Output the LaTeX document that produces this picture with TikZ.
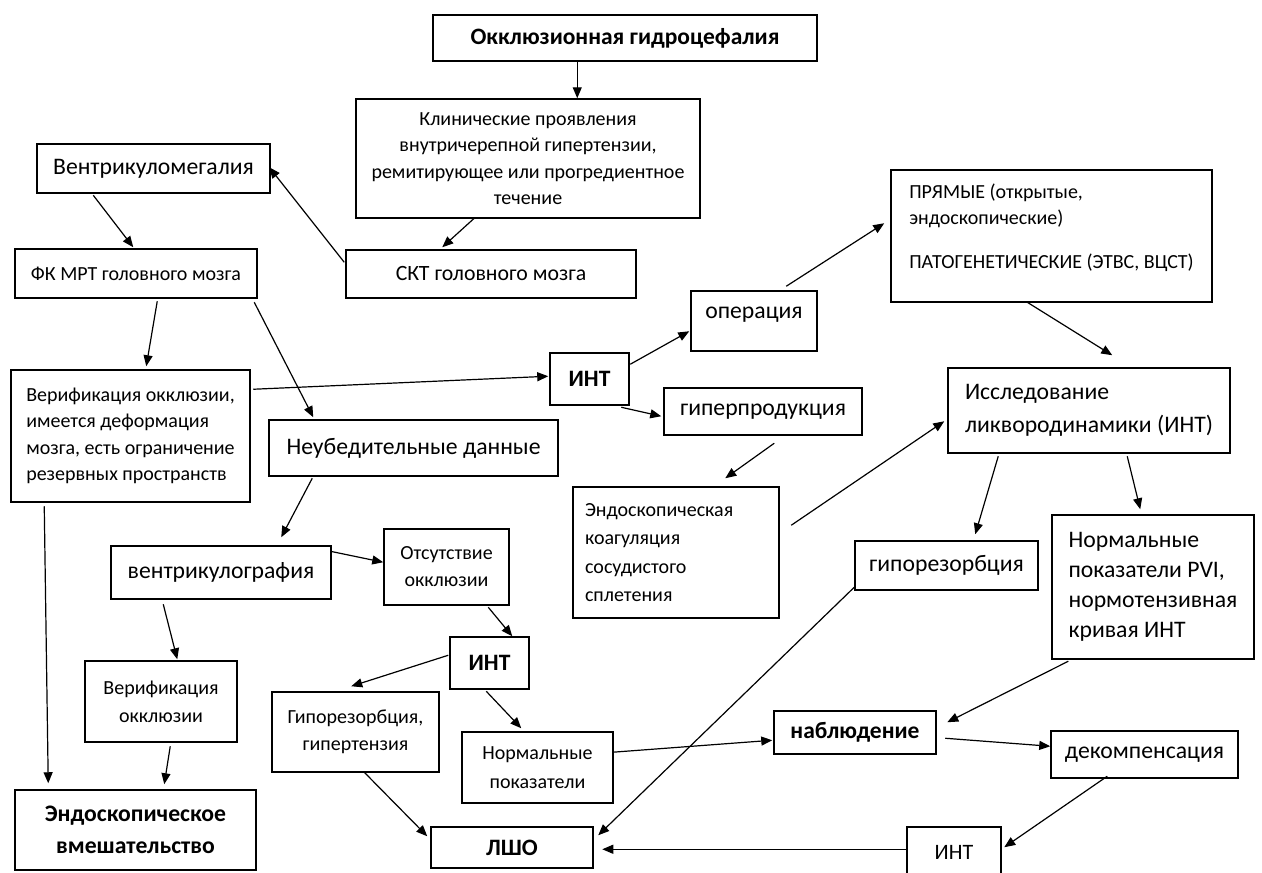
\documentclass[tikz,border=0pt]{standalone}
\usepackage{fontspec}
\setmainfont{Carlito}
\usetikzlibrary{arrows.meta}
\newcommand\fsz[2]{\fontsize{#1pt}{#2pt}\selectfont}
\newcommand\conn[4]{\draw[arr] ([shift={#2}]#1.north west) -- ([shift={#4}]#3.north west);}
\begin{document}
\begin{tikzpicture}[x=1pt,y=-1pt,
 box/.style={draw, line width=1.5pt, inner sep=0pt, align=center},
 arr/.style={line width=1.2pt, -{Triangle[length=11pt,width=9pt]}},
 f22/.style={font=\fsz{23.7}{28}},
 b22/.style={font=\bfseries\fsz{23.5}{28}}]
\useasboundingbox (0,0) rectangle (1262,873);
\clip (0,0) rectangle (1262,873);
\node[box, b22, minimum width=384pt, minimum height=46pt] (occ) at (625,38) {Окклюзионная гидроцефалия};
\node[box, minimum width=344pt, minimum height=119pt, font=\fsz{20}{26.5}] (clin) at (528,158.5) {Клинические проявления\\внутричерепной гипертензии,\\ремитирующее или прогредиентное\\течение};
\node[box, f22, minimum width=233pt, minimum height=49pt] (vm) at (153.5,168.5) {Вентрикуломегалия};
\node[box, minimum width=242pt, minimum height=49pt, font=\fsz{20}{24}] (fk) at (136,273.5) {ФК МРТ головного мозга};
\node[box, minimum width=290pt, minimum height=48pt, font=\fsz{21.8}{26}] (skt) at (491,274) {СКТ головного мозга};
\node[box, align=left, minimum width=321pt, minimum height=132pt, font=\fsz{20}{26}] (pr) at (1051.5,236) {ПРЯМЫЕ (открытые,\\эндоскопические)\\[18pt]ПАТОГЕНЕТИЧЕСКИЕ (ЭТВС, ВЦСТ)\rule[-20pt]{0pt}{20pt}};
\node[box, f22, minimum width=126pt, minimum height=60pt, text height=12pt, text depth=17pt] (op) at (754,321) {операция};
\node[box, b22, minimum width=79pt, minimum height=52pt] (int1) at (589.5,379) {ИНТ};
\node[box, align=left, minimum width=239pt, minimum height=132pt, font=\fsz{20}{26.5}] (ver) at (130.5,436) {Верификация окклюзии,\\имеется деформация\\мозга, есть ограничение\\резервных пространств};
\node[box, f22, minimum width=198pt, minimum height=47pt] (gip) at (763,411.5) {гиперпродукция};
\node[box, align=left, minimum width=282pt, minimum height=85pt, font=\fsz{23.7}{33}] (issl) at (1089,410.5) {Исследование\\ликвородинамики (ИНТ)};
\node[box, f22, minimum width=289pt, minimum height=56pt] (neub) at (413.5,448) {Неубедительные данные};
\node[box, align=left, text width=182pt, inner xsep=12pt, minimum width=206pt, minimum height=131pt, font=\fsz{20}{28.5}] (endoc) at (676,552.5) {Эндоскопическая\\коагуляция\\сосудистого\\сплетения};
\node[box, f22, minimum width=220pt, minimum height=53pt] (ventr) at (221,572.5) {вентрикулография};
\node[box, minimum width=125pt, minimum height=76pt, font=\fsz{20}{27}] (ots) at (446.5,567) {Отсутствие\\окклюзии};
\node[box, f22, minimum width=183pt, minimum height=49pt] (hypo) at (946.5,565.5) {гипорезорбция};
\node[box, align=left, minimum width=202pt, minimum height=144pt, font=\fsz{23.7}{30}] (pvi) at (1153,587) {Нормальные\\показатели PVI,\\нормотензивная\\кривая ИНТ};
\node[box, b22, minimum width=79pt, minimum height=52pt] (int2) at (489.5,663) {ИНТ};
\node[box, minimum width=152pt, minimum height=81pt, font=\fsz{20}{28}] (vo) at (161,701.5) {Верификация\\окклюзии};
\node[box, minimum width=167pt, minimum height=80pt, font=\fsz{20}{27}] (hg) at (355.5,732) {Гипорезорбция,\\гипертензия};
\node[box, minimum width=151pt, minimum height=71pt, font=\fsz{20}{29}] (np) at (537.5,767.5) {Нормальные\\показатели};
\node[box, b22, minimum width=162pt, minimum height=43pt] (nab) at (855,732.5) {наблюдение};
\node[box, minimum width=241pt, minimum height=80pt, font=\bfseries\fsz{23.7}{32}] (endo) at (135.5,830) {Эндоскопическое\\вмешательство};
\node[box, f22, minimum width=187pt, minimum height=47pt] (dek) at (1144.5,754.5) {декомпенсация};
\node[box, b22, minimum width=162pt, minimum height=41pt] (lsho) at (512,847.5) {ЛШО};
\node[box, font=\fsz{22}{26}, minimum width=94pt, minimum height=50pt] (int3) at (954,852) {ИНТ};
\conn{occ}{(145,46)}{clin}{(222,0)}
\conn{clin}{(119,120)}{skt}{(97,-2)}
\conn{skt}{(-1,13)}{vm}{(233,24)}
\conn{vm}{(57,52)}{fk}{(119,-1)}
\conn{fk}{(143,53)}{ver}{(136,-3)}
\conn{fk}{(240,54)}{neub}{(45,-2)}
\conn{ver}{(243,20)}{int1}{(-1,24)}
\conn{ver}{(34,137)}{endo}{(34,-6)}
\conn{int1}{(81,12)}{op}{(-1,41)}
\conn{int1}{(72,55)}{gip}{(-2,29)}
\conn{op}{(96,-4)}{pr}{(-6,54)}
\conn{pr}{(137,133)}{issl}{(165,-12)}
\conn{gip}{(111,56)}{endoc}{(153,-8)}
\conn{endoc}{(219,39)}{issl}{(-3,54)}
\conn{issl}{(51,89)}{hypo}{(121,-6)}
\conn{issl}{(180,89)}{pvi}{(89,-5)}
\conn{neub}{(44,59)}{ventr}{(171,-8)}
\conn{ventr}{(220,6)}{ots}{(0,34)}
\conn{ventr}{(53,59)}{vo}{(93,-1)}
\conn{vo}{(86,86)}{endo}{(150,-5)}
\conn{ots}{(105,79)}{int2}{(63,0)}
\conn{int2}{(-1,19)}{hg}{(80,-5)}
\conn{int2}{(37,55)}{np}{(60,-3)}
\conn{hg}{(93,81)}{lsho}{(-3,10)}
\conn{hypo}{(0,47)}{lsho}{(168,9)}
\conn{np}{(151,21)}{nab}{(-1,30)}
\conn{pvi}{(17,147)}{nab}{(174,12)}
\conn{nab}{(172,28)}{dek}{(0,16)}
\conn{dek}{(57,46)}{int3}{(98,21)}
\conn{int3}{(0,23)}{lsho}{(172,23)}
\end{tikzpicture}
\end{document}
